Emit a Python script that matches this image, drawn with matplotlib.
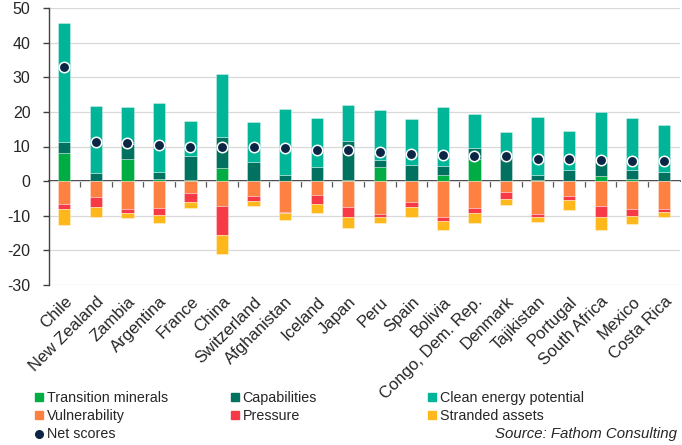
import matplotlib
matplotlib.use("Agg")
import matplotlib.pyplot as plt
import numpy as np
from matplotlib.patches import Patch
from matplotlib.lines import Line2D

countries = ["Chile", "New Zealand", "Zambia", "Argentina", "France", "China",
             "Switzerland", "Afghanistan", "Iceland", "Japan", "Peru", "Spain",
             "Bolivia", "Congo, Dem. Rep.", "Denmark", "Tajikistan", "Portugal",
             "South Africa", "Mexico", "Costa Rica"]

transition_minerals = [8.0, 0.0, 6.3, 0.6, 0.2, 3.7, 0.0, 0.0, 0.0, 0.2,
                       4.1, 0.0, 1.7, 6.5, 0.0, 0.2, 0.0, 1.6, 0.6, 0.0]
capabilities = [3.4, 2.4, 4.4, 2.1, 7.1, 9.1, 5.4, 1.9, 4.0, 11.5,
                2.1, 4.8, 2.7, 3.1, 7.0, 1.7, 3.2, 3.9, 2.6, 2.7]
clean_energy = [34.3, 19.3, 10.8, 19.9, 10.2, 18.0, 11.6, 18.9, 14.3, 10.4,
                14.2, 13.1, 17.0, 9.9, 7.1, 16.5, 11.4, 14.6, 15.0, 13.5]
vulnerability = [6.6, 4.5, 8.0, 7.8, 3.5, 7.1, 4.4, 8.9, 4.0, 7.4,
                 9.4, 6.0, 10.4, 7.8, 3.2, 9.4, 4.4, 7.2, 8.1, 8.1]
pressure = [1.5, 2.9, 1.2, 1.9, 2.4, 8.5, 1.4, 0.3, 2.5, 3.1,
            1.1, 1.5, 1.2, 1.4, 2.0, 1.0, 1.0, 3.2, 1.9, 0.7]
stranded_assets = [4.6, 3.1, 1.5, 2.5, 1.8, 5.5, 1.5, 2.0, 2.8, 3.0,
                   1.7, 2.8, 2.4, 3.0, 1.8, 1.4, 3.0, 3.6, 2.3, 1.6]
net_scores = [33.0, 11.3, 10.9, 10.4, 9.9, 9.9, 9.9, 9.5, 9.0, 8.9,
              8.3, 7.8, 7.5, 7.3, 7.2, 6.5, 6.4, 6.2, 5.9, 5.9]

y_ticks = [-30, -20, -10, 0, 10, 20, 30, 40, 50]

C_TM = "#00AD45"
C_CAP = "#00725F"
C_CLEAN = "#00B598"
C_VUL = "#FF8142"
C_PRES = "#F73A45"
C_STR = "#FFB81C"
C_NET = "#0B2545"

plt.rcParams["font.family"] = ["Liberation Sans", "DejaVu Sans"]
FS_Y = 11.5
FS_X = 12
FS_LEG = 10.3

fig = plt.figure(figsize=(6.82, 4.45), dpi=100)
ax = fig.add_axes([48.5 / 682, 1 - 285 / 445, (679.6 - 48.5) / 682, (285 - 8) / 445])

x = np.arange(len(countries))
w = 0.39
edge = dict(edgecolor=(1, 1, 1, 0.35), linewidth=0.7)

tm = np.array(transition_minerals)
cap = np.array(capabilities)
cl = np.array(clean_energy)
vul = np.array(vulnerability)
pr = np.array(pressure)
st = np.array(stranded_assets)

ax.bar(x, tm, w, color=C_TM, zorder=2, **edge)
ax.bar(x, cap, w, bottom=tm, color=C_CAP, zorder=2, **edge)
ax.bar(x, cl, w, bottom=tm + cap, color=C_CLEAN, zorder=2, **edge)
ax.bar(x, -vul, w, color=C_VUL, zorder=2, **edge)
ax.bar(x, -pr, w, bottom=-vul, color=C_PRES, zorder=2, **edge)
ax.bar(x, -st, w, bottom=-vul - pr, color=C_STR, zorder=2, **edge)
ax.plot(x, net_scores, linestyle="none", marker="o", markersize=7.5,
        markerfacecolor=C_NET, markeredgecolor="white", markeredgewidth=1.1, zorder=4)

ax.set_xlim(-0.5, len(countries) - 0.5)
ax.set_ylim(-30, 50)
ax.set_yticks(y_ticks)
ax.set_yticklabels([str(v) for v in y_ticks], fontsize=FS_Y, color="#262626")
ax.yaxis.grid(True, color="#D9D9D9", linewidth=0.9)
ax.set_axisbelow(True)

for s in ["top", "right", "bottom"]:
    ax.spines[s].set_visible(False)
ax.spines["left"].set_color("#404040")
ax.spines["left"].set_linewidth(1.0)
ax.tick_params(axis="y", direction="out", length=4, width=1.0, color="#404040", pad=9)

ax.set_xticks(x)
ax.set_xticklabels(countries, rotation=45, ha="right", rotation_mode="anchor",
                   fontsize=FS_X, color="#262626")
ax.tick_params(axis="x", length=0, pad=6.5)

# zero axis with category boundary ticks
sec = ax.secondary_xaxis(30 / 80)
sec.spines["bottom"].set_color("black")
sec.spines["bottom"].set_linewidth(1.1)
sec.set_xticks(x[:-1] + 0.5)
sec.set_xticklabels([])
sec.tick_params(axis="x", direction="out", length=4, width=0.9, color="#595959")

# legends
def add_leg(handles, labels, xpx):
    leg = fig.legend(handles, labels, loc="upper left",
                     bbox_to_anchor=(xpx / 682, 1 - 391 / 445),
                     frameon=False, fontsize=FS_LEG, handlelength=0.56, handleheight=0.56,
                     handletextpad=0.25, borderpad=0, borderaxespad=0, labelspacing=0.29)
    for t in leg.get_texts():
        t.set_color("#262626")
    return leg

add_leg([Patch(color=C_TM), Patch(color=C_VUL),
         Line2D([], [], linestyle="none", marker="o", markersize=5.5, color=C_NET)],
        ["Transition minerals", "Vulnerability", "Net scores"], 35)
add_leg([Patch(color=C_CAP), Patch(color=C_PRES)], ["Capabilities", "Pressure"], 231)
add_leg([Patch(color=C_CLEAN), Patch(color=C_STR)],
        ["Clean energy potential", "Stranded assets"], 428)

fig.text(677 / 682, 1 - 434 / 445, "Source: Fathom Consulting", ha="right", va="center",
         fontsize=10.8, style="italic", color="#262626")

fig.savefig("out.png", dpi=100)
